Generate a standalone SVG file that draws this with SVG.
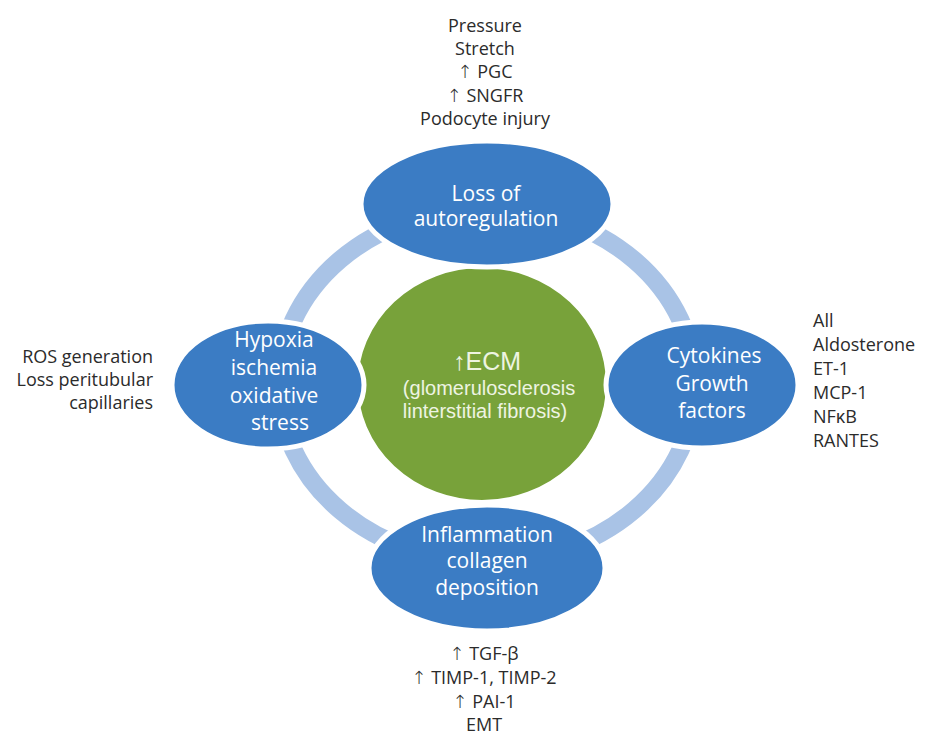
<svg xmlns="http://www.w3.org/2000/svg" width="926" height="731" viewBox="0 0 926 731">
<style>
.ring{fill:none;stroke:#a9c3e6;stroke-width:18}
.node{fill:#3b7cc4;stroke:#ffffff;stroke-width:5}
.core{fill:#78a23a;stroke:#ffffff;stroke-width:2}
.nt{font-family:"Open Sans","DejaVu Sans",sans-serif;font-size:21px;fill:#ffffff;text-anchor:middle}
.ct{font-family:"Liberation Sans",Arial,sans-serif;fill:#eef4e2;text-anchor:middle}
.lab{font-family:"Open Sans","Noto Sans",sans-serif;font-size:18px;fill:#2b2b2b}
.ar{font-family:"DejaVu Sans",sans-serif;font-weight:300}
</style>
<rect width="926" height="731" fill="#ffffff"/>
<g id="connectors">
<path class="ring" d="M279,385 A208,177 0 0 1 487,208"/>
<path class="ring" d="M487,208 A208,177 0 0 1 695,385"/>
<path class="ring" d="M695,385 A208,177 0 0 1 487,562"/>
<path class="ring" d="M487,562 A208,177 0 0 1 279,385"/>
</g>
<g id="ecm">
<ellipse class="core" cx="482" cy="384" rx="125" ry="117"/>
<text class="ct" x="487" y="370" font-size="25">↑ECM</text>
<text class="ct" x="489" y="395" font-size="20">(glomerulosclerosis</text>
<text class="ct" x="485" y="418" font-size="20">linterstitial fibrosis)</text>
</g>
<g id="autoregulation">
<ellipse class="node" cx="487" cy="204" rx="126" ry="63"/>
<text class="nt" x="486" y="201">Loss of</text>
<text class="nt" x="486" y="226">autoregulation</text>
</g>
<g id="hypoxia">
<ellipse class="node" cx="268" cy="385" rx="96" ry="64"/>
<text class="nt" x="274" y="347">Hypoxia</text>
<text class="nt" x="274" y="375">ischemia</text>
<text class="nt" x="274" y="403">oxidative</text>
<text class="nt" x="280" y="430">stress</text>
</g>
<g id="cytokines">
<ellipse class="node" cx="702" cy="385" rx="96" ry="63"/>
<text class="nt" x="714" y="363">Cytokines</text>
<text class="nt" x="712" y="391">Growth</text>
<text class="nt" x="712" y="418">factors</text>
</g>
<g id="inflammation">
<ellipse class="node" cx="487" cy="568" rx="118" ry="63"/>
<text class="nt" x="487" y="542">Inflammation</text>
<text class="nt" x="487" y="568">collagen</text>
<text class="nt" x="487" y="595">deposition</text>
</g>
<g id="top-labels" class="lab" text-anchor="middle">
<text x="485" y="32">Pressure</text>
<text x="485" y="55">Stretch</text>
<text x="485" y="78"><tspan class="ar">↑</tspan> PGC</text>
<text x="485" y="102"><tspan class="ar">↑</tspan> SNGFR</text>
<text x="485" y="125">Podocyte injury</text>
</g>
<g id="left-labels" class="lab" text-anchor="end">
<text x="153" y="363">ROS generation</text>
<text x="153" y="386">Loss peritubular</text>
<text x="153" y="409">capillaries</text>
</g>
<g id="right-labels" class="lab">
<text x="813" y="327">All</text>
<text x="813" y="351">Aldosterone</text>
<text x="813" y="375">ET-1</text>
<text x="813" y="399">MCP-1</text>
<text x="813" y="423">NFκB</text>
<text x="813" y="447">RANTES</text>
</g>
<g id="bottom-labels" class="lab" text-anchor="middle">
<text x="484" y="660"><tspan class="ar">↑</tspan> TGF-β</text>
<text x="484" y="684"><tspan class="ar">↑</tspan> TIMP-1, TIMP-2</text>
<text x="484" y="708"><tspan class="ar">↑</tspan> PAI-1</text>
<text x="484" y="731">EMT</text>
</g>
</svg>
